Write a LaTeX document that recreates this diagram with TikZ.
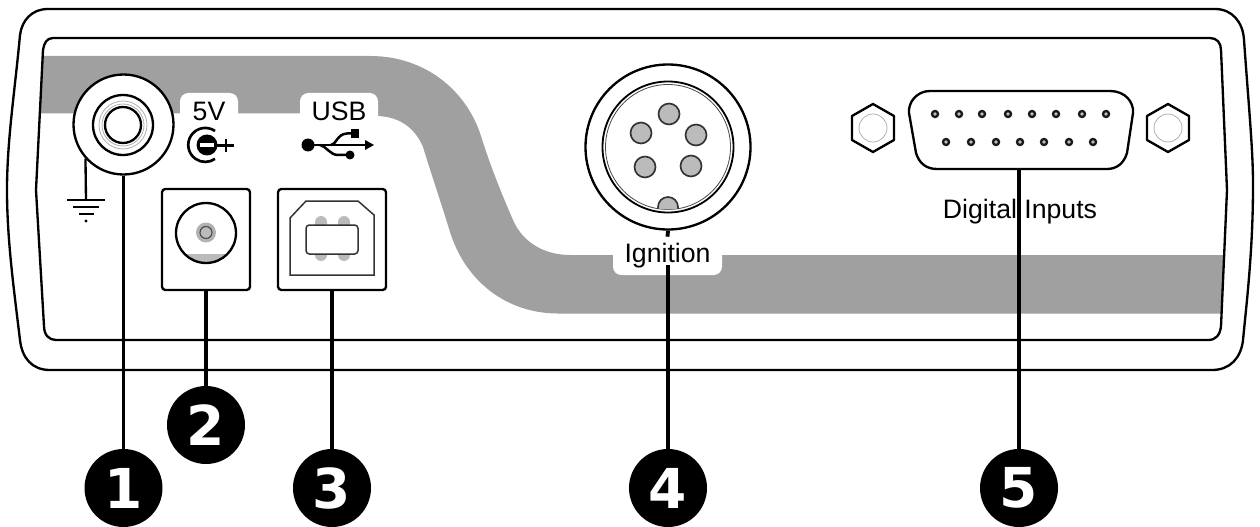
\documentclass[tikz,border=0pt]{standalone}
\usepackage{fontspec}
\setmainfont{Liberation Sans}
\newfontfamily\badgefont[Scale=1]{DejaVu Sans Bold}
\usetikzlibrary{calc}
\definecolor{bandgray}{HTML}{A0A0A0}
\definecolor{pingray}{HTML}{BBBBBB}
\tikzset{
	outline/.style={line width=1.4pt, line join=round},
	thinring/.style={line width=0.5pt, draw=gray!60},
	leader/.style={line width=2.3pt},
	badge/.style={circle, fill=black, text=white, inner sep=0pt, minimum size=46.8pt,
			font=\badgefont\fontsize{33}{33}\selectfont},
	caption/.style={font=\fontsize{16}{18}\selectfont, text=black, inner sep=0pt},
	patch/.style={caption, fill=white, rounded corners=5pt},
	portbox/.style={draw, outline, fill=white, rounded corners=2pt, inner sep=0pt},
	port/.style={circle, draw, outline, fill=white, inner sep=0pt},
	din/.style={draw=black!80, line width=1pt, fill=pingray},
	subpin/.style={draw=black!90, line width=1.4pt, fill=gray!50}
}
\newcommand{\panelpath}{(53,38) -- (1210,38) .. controls (1217,38) and (1221,43) .. (1221,50)
	-- (1227,190) -- (1221,326) .. controls (1220,335) and (1216,340) .. (1208,340)
	-- (56,340) .. controls (49,340) and (44,335) .. (44,326) -- (36,190) -- (43,50)
	.. controls (44,43) and (47,38) .. (53,38) -- cycle}

\begin{document}
\begin{tikzpicture}[x=0.6pt, y=-0.6pt]
	\useasboundingbox (0,0) rectangle (1260,527);

	% Case and front panel
	\draw[outline] (48,9) -- (1215,9) .. controls (1232,9) and (1243,22) .. (1244,40)
		.. controls (1249,110) and (1253,150) .. (1253,185) .. controls (1253,230) and (1250,270) .. (1246,310)
		-- (1243,340) .. controls (1241,358) and (1230,370) .. (1212,370) -- (50,370)
		.. controls (32,370) and (22,358) .. (20,340) .. controls (14,290) and (7,240) .. (7,190)
		.. controls (7,140) and (15,90) .. (20,35) .. controls (22,20) and (32,9) .. (48,9) -- cycle;

	% Grey band, cut off at the panel edge
	\begin{scope}
		\clip \panelpath;
		\fill[bandgray] (30,56) -- (370,56) .. controls (425,56) and (465,90) .. (480,133)
			.. controls (490,165) and (500,190) .. (513,220) .. controls (523,243) and (545,255) .. (570,255)
			-- (1235,255) -- (1235,313.5) -- (557,313.5) .. controls (505,313) and (465,280) .. (450,232)
			.. controls (445,215) and (430,170) .. (423,147) .. controls (415,128) and (400,117) .. (378,116)
			-- (300,113.5) -- (30,113.5) -- cycle;
	\end{scope}
	\draw[outline] \panelpath;

	% Number badges
	\node[badge] (badgeA) at (123.5,488) {1};
	\node[badge] (badgeB) at (206,425) {2};
	\node[badge] (badgeC) at (332,488) {3};
	\node[badge] (badgeD) at (668,488) {4};
	\node[badge] (badgeE) at (1019,488) {5};

	% Ground post with its symbol
	\coordinate (gnd) at (86,200);
	\node[port, minimum size=60pt] (jack) at (123.5,124.5) {};
	\draw[outline] (jack.222) -- (gnd);
	\draw[outline] (67,200) -- (105,200) (73,207) -- (99,207) (79,214) -- (94,214);
	\fill (86,221) circle (1.6);
	\draw[outline] (123,125) circle (30);
	\draw[thinring] (123,125) circle (24) (123,125) circle (21);
	\draw[outline] (123,125) circle (18);
	\draw[leader] (jack.south) -- (badgeA);

	% Power socket
	\node[patch, minimum width=34.8pt, minimum height=21.6pt] (fivev) at (209,111) {5V};
	\draw[line width=1.6pt] (215,131) arc[start angle=-55,end angle=-305,radius=17];
	\fill (207,145) circle (10.5);
	\fill[white] (200,143) rectangle (214,147);
	\draw[line width=1.6pt] (217,145.5) -- (234,145.5) (226,139) -- (226,152);
	\node[portbox, minimum width=52.8pt, minimum height=60.6pt] (dcbox) at (206,239.5) {};
	\begin{scope}
		\clip (206,233) circle (30);
		\fill[pingray] (170,254) rectangle (240,270);
	\end{scope}
	\draw[outline] (206,233) circle (30);
	\fill[gray!60] (206,232.5) circle (10);
	\draw[line width=0.7pt, draw=black!70, fill=pingray] (206,232.5) circle (6);
	\draw[leader] (dcbox.south) -- (badgeB);

	% USB socket
	\node[patch, minimum width=46.8pt, minimum height=21.6pt] (usb) at (339,111) {USB};
	\fill (308,145) circle (6.5);
	\draw[line width=1.5pt] (308,145) -- (368,145);
	\fill (365,140) -- (374,145) -- (365,150) -- cycle;
	\draw[line width=1.5pt] (331,145) .. controls (336,145) and (337,134) .. (347,133.5) -- (353,133.5);
	\draw[line width=1.5pt] (320,145) .. controls (326,146) and (330,155) .. (338,155) -- (348,155);
	\fill (351,129) rectangle (359,138);
	\fill (350,155) circle (4.5);
	\node[portbox, minimum width=64.8pt, minimum height=60.6pt] (usbbox) at (332,239.5) {};
	\draw[line width=0.9pt, draw=black!80] (290,218) -- (306,201) -- (358,201) -- (374,215) -- (374,275) -- (290,275) -- cycle;
	\foreach \pinx in {321,344} {
			\fill[pingray] (\pinx-6,222) arc[start angle=180,end angle=360,radius=6] -- (\pinx+6,255) arc[start angle=0,end angle=180,radius=6] -- cycle;
		}
	\draw[line width=0.9pt, draw=black!80, fill=white, rounded corners=2pt] (306,225) rectangle (358,254);
	\draw[leader] (usbbox.south) -- (badgeC);

	% Ignition connector
	\node[port, minimum size=99pt] (ignition) at (668,147) {};
	\draw[outline, line width=1.1pt] (668,147) circle (65.5);
	\draw[line width=0.5pt, draw=black!70] (668,147) circle (62.5);
	\begin{scope}
		\clip (668,147) circle (62.5);
		\draw[din] (668,207) circle (10);
	\end{scope}
	\foreach \pinx/\piny in {669/114,641/133,696/135,645/167,691/166} {
			\draw[din] (\pinx,\piny) circle (10.5);
		}
	\node[patch, minimum width=65.4pt, minimum height=22.8pt] (ignlabel) at (667.5,256) {Ignition};
	\coordinate (igntail) at (668,265);
	\draw[leader] (ignition.south) -- (ignlabel.north);
	\draw[leader] (igntail) -- (badgeD);

	% Digital inputs connector
	\foreach \hexx in {873,1168} {
			\draw[outline] (\hexx,104) -- ++(21,12) -- ++(0,24) -- ++(-21,12) -- ++(-21,-12) -- ++(0,-24) -- cycle;
			\draw[thinring] (\hexx,128) circle (14);
		}
	\draw[outline] (930,91) -- (1110,91) .. controls (1125,91) and (1134,102) .. (1133,113)
		-- (1127,153) .. controls (1124,163) and (1117,169) .. (1107,169) -- (937,169)
		.. controls (926,169) and (919,163) .. (916,153) -- (909,113)
		.. controls (908,102) and (917,91) .. (930,91) -- cycle;
	\foreach \pinx in {935,959,982,1008,1032,1056,1082,1106} {
			\draw[subpin] (\pinx,114) circle (3);
		}
	\foreach \pinx in {946,971,996,1020,1044,1069,1093} {
			\draw[subpin] (\pinx,142) circle (3);
		}
	\coordinate (subport) at (1019,169);
	\draw[leader] (subport) -- (badgeE);
	\node[caption] (inputs) at (1020,212) {Digital Inputs};

\end{tikzpicture}
\end{document}
